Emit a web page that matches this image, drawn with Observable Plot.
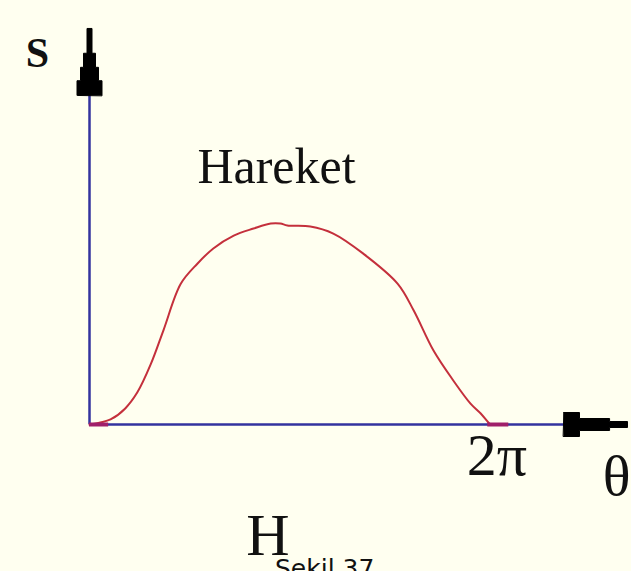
<!DOCTYPE html>
<html>
<head>
<meta charset="utf-8">
<script src="https://cdn.jsdelivr.net/npm/d3@7"></script>
<script src="https://cdn.jsdelivr.net/npm/@observablehq/plot@0.6"></script>
<style>
  html, body { margin: 0; padding: 0; background: #fffff0; overflow: hidden; }
  #caption { font-family: "DejaVu Sans", sans-serif; font-size: 25px; line-height: 25px; margin-left: 275px; color: #111; white-space: nowrap; }
</style>
</head>
<body>
<div id="chart"></div>
<div id="caption"></div>
<script>
// Cam displacement curve: theta (rad) vs normalized displacement s
const theta = [0, 0.17, 0.33, 0.56, 0.75, 0.96, 1.16, 1.43, 1.69, 1.94, 2.26, 2.57, 2.84, 2.99, 3.10, 3.46, 3.82, 4.29, 4.83, 5.08, 5.39, 5.70, 5.97, 6.13, 6.25, 6.283];
const s     = [0, 0.01, 0.025, 0.08, 0.16, 0.30, 0.47, 0.70, 0.80, 0.876, 0.94, 0.975, 1.0, 1.0, 0.99, 0.985, 0.95, 0.85, 0.70, 0.567, 0.368, 0.219, 0.104, 0.055, 0.01, 0];
// Short emphasized segments on the theta axis (dwell marks)
const dwellStart = [0, 6.24];
const dwellEnd   = [0.3, 6.57];
const axisLabels = ["S", "θ"];
const tickLabel = "2π";
const curveLabel = "Hareket";
const subLabel = "H";
const captionText = "Şekil 37";

const curve = theta.map((t, i) => ({theta: t, s: s[i]}));
const dwell = dwellStart.map((a, i) => ({a, b: dwellEnd[i]}));

function stepped(steps) {
  return {
    draw(ctx, l, r) {
      ctx.moveTo(-r * steps[0][1], 0);
      let y0 = 0;
      for (const [f, w] of steps) { ctx.lineTo(-r * w, -y0); ctx.lineTo(-r * w, -f * l); y0 = f * l; }
      for (let i = steps.length - 1; i >= 0; i--) {
        const [f, w] = steps[i];
        const start = i ? steps[i - 1][0] * l : 0;
        ctx.lineTo(r * w, -f * l);
        ctx.lineTo(r * w, -start);
      }
      ctx.closePath();
    }
  };
}
const arrowY = stepped([[0.22, 1], [0.42, 0.72], [0.63, 0.48], [1, 0.2]]);
const arrowX = stepped([[0.25, 1], [0.72, 0.5], [1, 0.25]]);

const axisColor = "#33339f";
const serif = "'Liberation Serif', 'DejaVu Serif', serif";

const chart = Plot.plot({
  width: 631,
  height: 556,
  margin: 0,
  x: {domain: [0, 2 * Math.PI], range: [89, 490], axis: null},
  y: {domain: [0, 1], range: [424, 223], axis: null},
  style: {background: "#fffff0", overflow: "visible"},
  marks: [
    Plot.ruleX([0], {x: 0, y1: 0, y2: 1.95, stroke: axisColor, strokeWidth: 2.5}),
    Plot.ruleY([0], {y: 0, x1: 0, x2: 7.5, stroke: axisColor, strokeWidth: 2.5}),
    Plot.vector([0], {x: 0, y: 1.637, length: 67, r: 12.5, anchor: "start", shape: arrowY, fill: "black", stroke: "black", strokeWidth: 1}),
    Plot.vector([0], {x: 7.427, y: 0, length: 64, r: 12, rotate: 90, anchor: "start", shape: arrowX, fill: "black", stroke: "black", strokeWidth: 1}),
    Plot.line(curve, {x: "theta", y: "s", stroke: "#c4303c", strokeWidth: 2, curve: "catmull-rom"}),
    Plot.ruleY(dwell, {y: 0, x1: "a", x2: "b", stroke: "#a0206a", strokeWidth: 4}),
    Plot.text([axisLabels[0]], {x: -0.815, y: 1.846, text: d => d, fontSize: 42, fontWeight: "bold", fontFamily: serif, fill: "#111", lineAnchor: "middle"}),
    Plot.text([axisLabels[1]], {x: 8.26, y: -0.259, text: d => d, fontSize: 58, fontFamily: serif, fill: "#111", lineAnchor: "middle"}),
    Plot.text([tickLabel], {x: 6.385, y: -0.154, text: d => d, fontSize: 60, fontFamily: serif, fill: "#111", lineAnchor: "middle"}),
    Plot.text([curveLabel], {x: 2.93, y: 1.281, text: d => d, fontSize: 50, fontFamily: serif, fill: "#111", lineAnchor: "middle"}),
    Plot.text([subLabel], {x: 2.797, y: -0.552, text: d => d, fontSize: 60, fontFamily: serif, fill: "#111", lineAnchor: "middle"})
  ]
});
document.getElementById("chart").appendChild(chart);
document.getElementById("caption").textContent = captionText;
</script>
</body>
</html>
